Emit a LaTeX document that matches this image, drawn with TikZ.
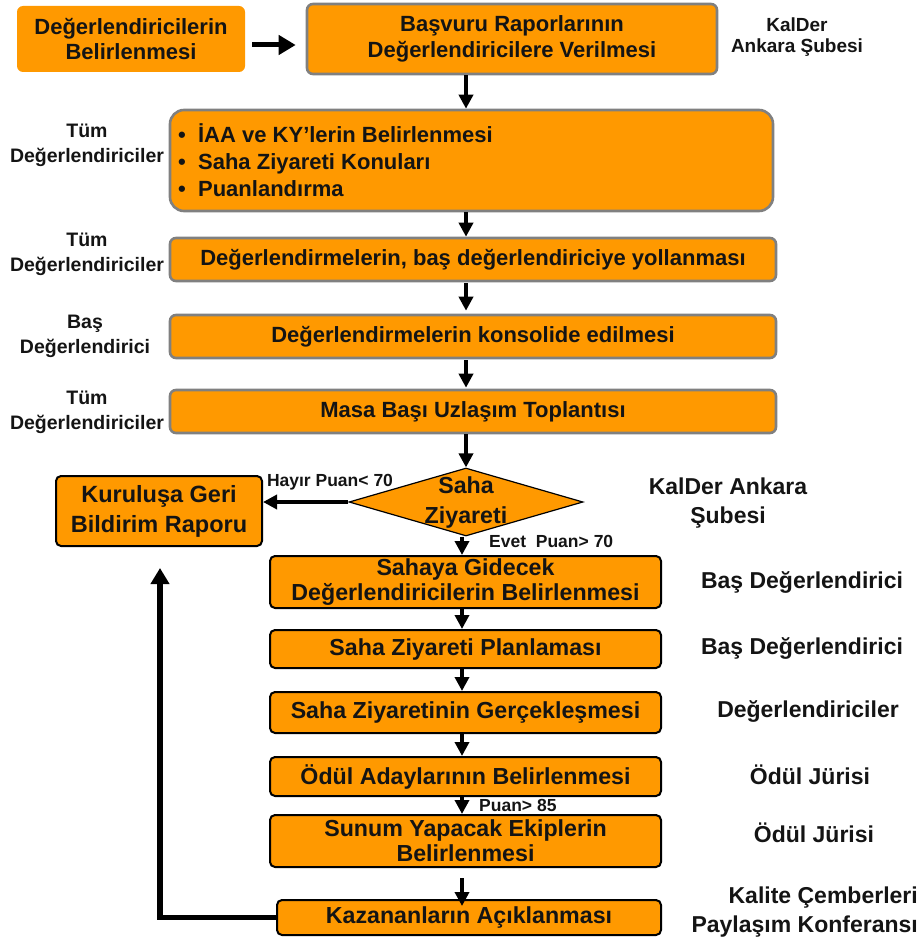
\documentclass[tikz,border=0pt]{standalone}
\usepackage{fontspec}
\setmainfont{Liberation Sans}
\usetikzlibrary{shapes.geometric,arrows.meta,calc}
\definecolor{orng}{RGB}{255,153,0}
\definecolor{grayb}{RGB}{128,128,128}
\definecolor{txt}{RGB}{20,20,20}
\begin{document}
\begin{tikzpicture}[x=1pt,y=-1pt,
  font=\bfseries, text=txt,
  boxbase/.style={fill=orng, align=center, inner sep=0pt, font=\fontsize{22}{25.5}\selectfont\bfseries},
  graybox/.style={boxbase, draw=grayb, line width=2.6pt, rounded corners=6pt},
  plainbox/.style={boxbase, draw=none, rounded corners=6pt},
  blackbox/.style={boxbase, draw=black, line width=2pt, rounded corners=5pt, font=\fontsize{23.2}{25}\selectfont\bfseries},
  arr/.style={line width=4.2pt, -{Triangle[length=14pt,width=14pt]}},
  lab/.style={align=center, inner sep=0pt, font=\fontsize{19.5}{25}\selectfont\bfseries},
  rlab/.style={align=center, inner sep=0pt, font=\fontsize{23}{28.5}\selectfont\bfseries},
  small/.style={inner sep=0pt, font=\fontsize{17.5}{19}\selectfont\bfseries}]
\useasboundingbox (0,0) rectangle (922,947);

% top row
\node[plainbox, minimum width=228pt, minimum height=66pt] (b1) at (131,39) {Değerlendiricilerin\\Belirlenmesi};
\node[graybox, minimum width=410pt, minimum height=70pt] (b2) at (512,39) {Başvuru Raporlarının\\Değerlendiricilere Verilmesi};
\node[lab, font=\fontsize{19}{21}\selectfont\bfseries] (l2) at (797,37) {KalDer\\Ankara Şubesi};

\node[graybox, rounded corners=14pt, minimum width=603pt, minimum height=101pt] (b3) at (471.5,160.5) {};
\node[inner sep=0pt, anchor=west, align=left, font=\fontsize{22}{27}\selectfont\bfseries] (b3t) at (178,160) {\textbullet\ \ İAA ve KY’lerin Belirlenmesi\\\textbullet\ \ Saha Ziyareti Konuları\\\textbullet\ \ Puanlandırma};
\node[lab] (l3) at (87,145) {Tüm\\Değerlendiriciler};

\node[graybox, minimum width=606pt, minimum height=43pt] (b4) at (473,259.5) {Değerlendirmelerin, baş değerlendiriciye yollanması};
\node[lab] (l4) at (87,254) {Tüm\\Değerlendiriciler};

\node[graybox, minimum width=606pt, minimum height=43pt] (b5) at (473,336.5) {Değerlendirmelerin konsolide edilmesi};
\node[lab] (l5) at (85,336) {Baş\\Değerlendirici};

\node[graybox, minimum width=606pt, minimum height=43pt] (b6) at (473,411.5) {Masa Başı Uzlaşım Toplantısı};
\node[lab] (l6) at (87,412) {Tüm\\Değerlendiriciler};

% decision
\node[diamond, fill=orng, draw=black, line width=1.2pt, minimum width=234pt, minimum height=68pt, inner sep=0pt] (d) at (466,502) {};
\node[align=center, inner sep=0pt, font=\fontsize{23.2}{30}\selectfont\bfseries] (dt) at (466,502) {Saha\\Ziyareti};
\node[rlab] (ld) at (728,503) {KalDer Ankara\\Şubesi};

\node[blackbox, minimum width=206pt, minimum height=70pt, font=\fontsize{23.5}{30}\selectfont\bfseries] (kur) at (159,511) {Kuruluşa Geri\\Bildirim Raporu};

% lower chain
\coordinate (ax) at (462,0);
\node[blackbox, minimum width=391pt, minimum height=52pt] (b8) at (465.5,582) {Sahaya Gidecek\\Değerlendiricilerin Belirlenmesi};
\node[rlab] (l8) at (802,582) {Baş Değerlendirici};
\node[blackbox, minimum width=391pt, minimum height=38pt] (b9) at (465.5,649) {Saha Ziyareti Planlaması};
\node[rlab] (l9) at (802,648) {Baş Değerlendirici};
\node[blackbox, minimum width=391pt, minimum height=41pt] (b10) at (465.5,712.5) {Saha Ziyaretinin Gerçekleşmesi};
\node[rlab] (l10) at (808,711) {Değerlendiriciler};
\node[blackbox, minimum width=391pt, minimum height=39pt] (b11) at (465.5,776.5) {Ödül Adaylarının Belirlenmesi};
\node[rlab] (l11) at (810,775) {Ödül Jürisi};
\node[blackbox, minimum width=391pt, minimum height=52pt] (b12) at (465.5,841) {Sunum Yapacak Ekiplerin\\Belirlenmesi};
\node[rlab] (l12) at (814,833) {Ödül Jürisi};
\node[blackbox, minimum width=384pt, minimum height=35pt] (b13) at (469,917.5) {Kazananların Açıklanması};
\node[rlab, align=right, anchor=east] (l13) at (918,912) {Kalite Çemberleri\\Paylaşım Konferansı};

% connectors
\draw[line width=5pt, -{Triangle[length=17pt,width=19pt]}] ($(b1.east)+(7,6)$) coordinate (a1s) -- ($(b2.west)+(-10,6)$) coordinate (a1e);
\draw[arr] (b2.south -| d) -- (b3.north -| d);
\draw[arr] (b3.south -| d) -- (b4.north -| d);
\draw[arr] ($(b4.south -| d)+(0,1)$) -- ($(b5.north -| d)+(0,-3)$);
\draw[arr] ($(b5.south -| d)+(0,1)$) -- ($(b6.north -| d)+(0,-1)$);
\draw[arr] (b6.south -| d) -- (d.north);
\draw[arr] (d.west) -- (d.west -| kur.east);
\node[small, anchor=south] (hl) at (330,490) {Hayır Puan< 70};
\draw[arr] (d.south -| ax) -- (b8.north -| ax);
\node[small, anchor=west] (el) at (489,541) {Evet \ Puan> 70};
\draw[arr] (b8.south -| ax) -- (b9.north -| ax);
\draw[arr] (b9.south -| ax) -- (b10.north -| ax);
\draw[arr] (b10.south -| ax) -- (b11.north -| ax);
\draw[arr] (b11.south -| ax) -- (b12.north -| ax);
\node[small, anchor=west] (pl) at (479,805) {Puan> 85};
\coordinate (a12s) at ($(b12.south -| ax)+(0,10)$);
\draw[arr] (a12s) -- ($(b13.north -| ax)+(0,7)$);
\coordinate (fbc) at (160,917.5);
\coordinate (fbt) at (160,568);
\draw[line width=5.5pt, -{Triangle[length=16pt,width=18pt]}] (b13.west) -- (fbc) -- (fbt);
\end{tikzpicture}
\end{document}
